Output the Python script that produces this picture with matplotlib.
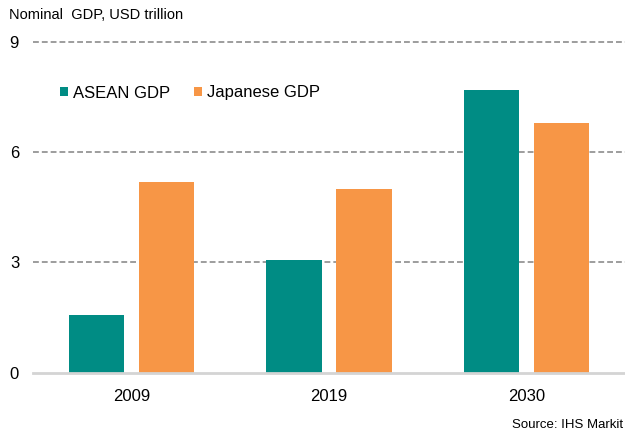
import matplotlib
matplotlib.use("Agg")
import matplotlib.pyplot as plt
import numpy as np

plt.rcParams['font.family'] = ['Liberation Sans', 'DejaVu Sans']

years = ["2009", "2019", "2030"]
asean_gdp = [1.57, 3.06, 7.68]
japan_gdp = [5.19, 4.98, 6.79]
series_labels = ["ASEAN GDP", "Japanese GDP"]
yticks = [0, 3, 6, 9]

teal = "#008C84"
orange = "#F79646"

fig = plt.figure(figsize=(6.25, 4.34), dpi=100)
ax = fig.add_axes([33/625, 1-372.7/434, 1-33/625, (372.7-41.5)/434])

x = np.arange(len(years))
w = 0.28
off = 0.178
b1 = ax.bar(x - off, asean_gdp, w, color=teal, label=series_labels[0], zorder=3)
b2 = ax.bar(x + off, japan_gdp, w, color=orange, label=series_labels[1], zorder=3)

ax.set_xlim(-0.5, 2.5)
ax.set_ylim(0, 9)
ax.set_xticks(x)
ax.set_xticklabels(years)
ax.set_yticks(yticks)
ax.set_yticklabels([str(t) for t in yticks])
for t in yticks[1:]:
    ax.axhline(t, color="#8c8c8c", lw=1.2, ls=(0, (3.5, 1.8)), zorder=1, clip_on=False)
ax.axhline(0, color="#d4d4d4", lw=2, zorder=4, clip_on=False)

for s in ax.spines.values():
    s.set_visible(False)
ax.tick_params(axis="both", length=0, labelsize=12, colors="#000000")
ax.tick_params(axis="y", pad=10)
ax.tick_params(axis="x", pad=12)
for lab in ax.get_yticklabels():
    lab.set_horizontalalignment("right")

fig.text(9/625, 1-15/434, "Nominal  GDP, USD trillion", fontsize=10.5, va="center", ha="left", color="#000000")
fig.text(623/625, 1-425/434, "Source: IHS Markit", fontsize=9.5, va="center", ha="right", color="#000000")

leg = fig.legend(handles=[b1, b2], labels=series_labels, loc="center left",
                 bbox_to_anchor=(60/625, 1-93/434), ncol=2, frameon=False,
                 fontsize=12, handlelength=0.5, handleheight=0.5,
                 handletextpad=0.3, columnspacing=1.4, borderpad=0, borderaxespad=0)

fig.savefig("out.png", dpi=100)
